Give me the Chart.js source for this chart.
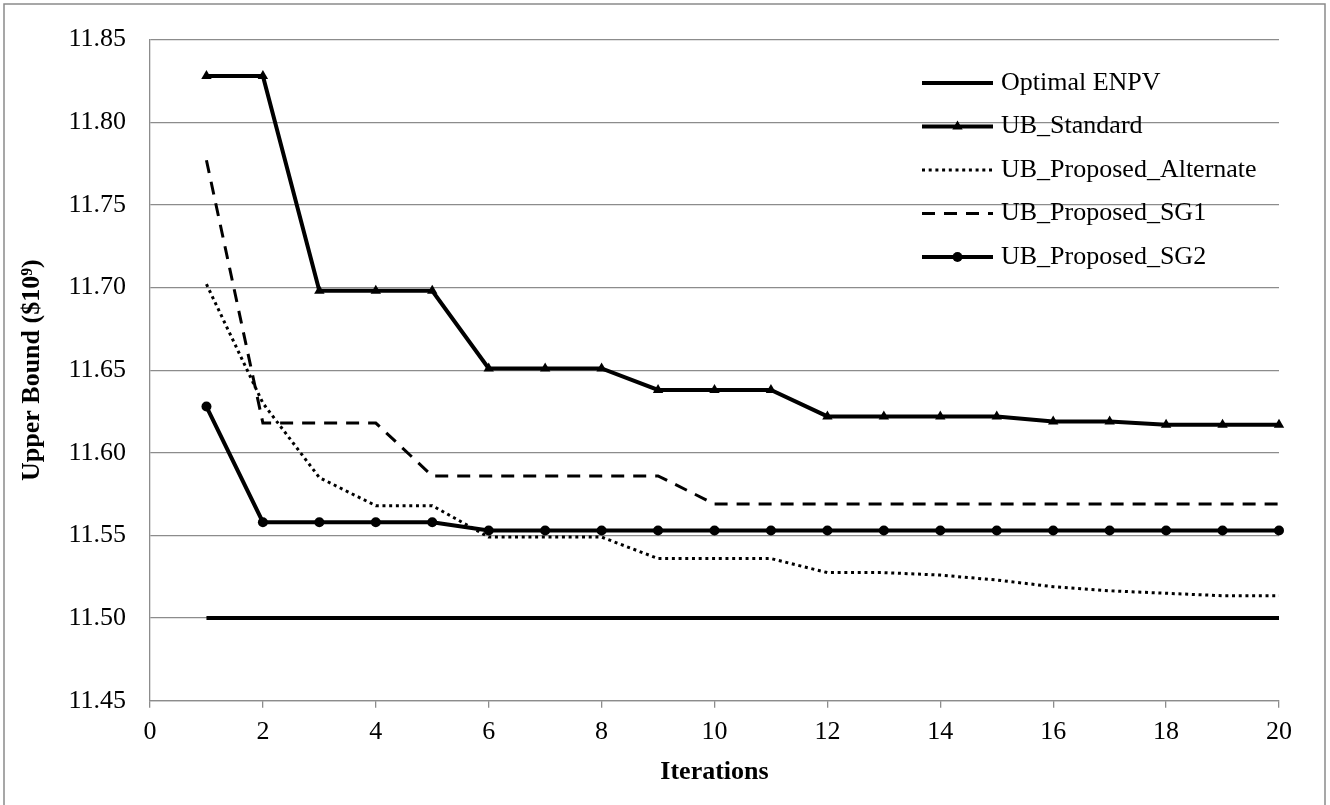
<!DOCTYPE html>
<html>
<head>
<meta charset="utf-8">
<script src="https://cdn.jsdelivr.net/npm/chart.js@4.4.1/dist/chart.umd.min.js"></script>
<style>
  html, body { margin: 0; padding: 0; background: #ffffff; }
  #wrap { width: 1330px; height: 805px; position: relative; }
</style>
</head>
<body>
<div id="wrap"><canvas id="c" width="1330" height="805"></canvas></div>
<script>
// ---- data ----
const iterations = [1, 2, 3, 4, 5, 6, 7, 8, 9, 10, 11, 12, 13, 14, 15, 16, 17, 18, 19, 20];
const optimalENPV = [11.50, 11.50, 11.50, 11.50, 11.50, 11.50, 11.50, 11.50, 11.50, 11.50,
                     11.50, 11.50, 11.50, 11.50, 11.50, 11.50, 11.50, 11.50, 11.50, 11.50];
const ubStandard = [11.828, 11.828, 11.698, 11.698, 11.698, 11.651, 11.651, 11.651, 11.638, 11.638,
                    11.638, 11.622, 11.622, 11.622, 11.622, 11.619, 11.619, 11.617, 11.617, 11.617];
const ubAlternate = [11.702, 11.630, 11.585, 11.568, 11.568, 11.549, 11.549, 11.549, 11.536, 11.536,
                     11.536, 11.5275, 11.5275, 11.526, 11.523, 11.519, 11.5165, 11.515, 11.5135, 11.5135];
const ubSG1 = [11.777, 11.618, 11.618, 11.618, 11.586, 11.586, 11.586, 11.586, 11.586, 11.569,
               11.569, 11.569, 11.569, 11.569, 11.569, 11.569, 11.569, 11.569, 11.569, 11.569];
const ubSG2 = [11.628, 11.558, 11.558, 11.558, 11.558, 11.553, 11.553, 11.553, 11.553, 11.553,
               11.553, 11.553, 11.553, 11.553, 11.553, 11.553, 11.553, 11.553, 11.553, 11.553];
const seriesNames = ['Optimal ENPV', 'UB_Standard', 'UB_Proposed_Alternate', 'UB_Proposed_SG1', 'UB_Proposed_SG2'];
const xAxisTitle = 'Iterations';
const yAxisTitle = 'Upper Bound ($10\u2079)';
const xMin = 0, xMax = 20, xStep = 2;
const yMin = 11.45, yMax = 11.85, yStep = 0.05;

const toPoints = (vals) => iterations.map((x, i) => ({ x: x, y: vals[i] }));

const GRID = '#8c8c8c';
const FONT = "'Liberation Serif', 'Times New Roman', serif";

// legend drawn inside the plot area, top-right (as in the reference)
const insideLegend = {
  id: 'insideLegend',
  afterDraw(chart) {
    const ctx = chart.ctx;
    const x0 = 922, x1 = 993, tx = 1001;
    const y0 = 83, dy = 43.5;
    ctx.save();
    chart.data.datasets.forEach((ds, i) => {
      const y = y0 + i * dy;
      ctx.strokeStyle = ds.borderColor;
      ctx.lineWidth = ds.borderWidth;
      ctx.setLineDash(ds.borderDash || []);
      ctx.lineCap = 'butt';
      ctx.beginPath();
      ctx.moveTo(x0, y);
      ctx.lineTo(x1, y);
      ctx.stroke();
      ctx.setLineDash([]);
      if (ds.pointRadius > 0) {
        ctx.fillStyle = ds.pointBackgroundColor;
        Chart.helpers.drawPoint(ctx, {
          pointStyle: ds.pointStyle, radius: ds.pointRadius, rotation: 0, borderWidth: 0
        }, (x0 + x1) / 2, y);
      }
      ctx.fillStyle = '#000';
      ctx.font = '26px ' + FONT;
      ctx.textBaseline = 'middle';
      ctx.textAlign = 'left';
      ctx.fillText(ds.label, tx, y);
    });
    ctx.restore();
  }
};

// outer chart border
const frame = {
  id: 'frame',
  beforeDraw(chart) {
    const ctx = chart.ctx;
    ctx.save();
    ctx.fillStyle = '#fff';
    ctx.fillRect(0, 0, chart.width, chart.height);
    ctx.strokeStyle = '#8a8a8a';
    ctx.lineWidth = 1.5;
    ctx.strokeRect(4, 4, 1321, 812);
    ctx.restore();
  }
};

const mk = (label, vals, extra) => Object.assign({
  label: label,
  data: toPoints(vals),
  borderColor: '#000',
  backgroundColor: '#000',
  pointBackgroundColor: '#000',
  pointBorderColor: '#000',
  pointBorderWidth: 0,
  pointRadius: 0,
  pointHoverRadius: 0,
  tension: 0,
  fill: false,
  clip: false
}, extra);

new Chart(document.getElementById('c'), {
  type: 'line',
  data: {
    datasets: [
      mk(seriesNames[0], optimalENPV, { borderWidth: 4 }),
      mk(seriesNames[1], ubStandard, { borderWidth: 4, pointStyle: 'triangle', pointRadius: 6 }),
      mk(seriesNames[2], ubAlternate, { borderWidth: 3, borderDash: [3, 3.7] }),
      mk(seriesNames[3], ubSG1, { borderWidth: 3, borderDash: [13, 9] }),
      mk(seriesNames[4], ubSG2, { borderWidth: 4, pointStyle: 'circle', pointRadius: 5 })
    ]
  },
  options: {
    responsive: false,
    animation: false,
    devicePixelRatio: 1,
    layout: { padding: { top: 31, right: 51, left: 0, bottom: 0 } },
    plugins: { legend: { display: false }, tooltip: { enabled: false } },
    scales: {
      x: {
        type: 'linear',
        min: xMin, max: xMax,
        ticks: { stepSize: xStep, color: '#000', font: { family: FONT, size: 26 }, padding: 9, maxRotation: 0 },
        grid: { drawOnChartArea: false, drawTicks: true, tickLength: 7, color: GRID, lineWidth: 1.3 },
        border: { display: true, color: GRID, width: 1.3 },
        title: { display: true, text: xAxisTitle, color: '#000', font: { family: FONT, size: 26, weight: 'bold' }, padding: { top: 0, bottom: 17 } },
        afterFit(s) { s.height = 104.3; }
      },
      y: {
        min: yMin, max: yMax,
        ticks: { stepSize: yStep, color: '#000', font: { family: FONT, size: 26 }, padding: 24,
                 callback: (v) => Number(v).toFixed(2) },
        grid: { drawTicks: false, color: GRID, lineWidth: 1.3 },
        border: { display: true, color: GRID, width: 1.3 },
        title: { display: true, text: yAxisTitle, color: '#000', font: { family: FONT, size: 26, weight: 'bold' }, padding: { top: 17, bottom: 0 } },
        afterFit(s) { s.width = 150; }
      }
    }
  },
  plugins: [frame, insideLegend]
});
</script>
</body>
</html>
